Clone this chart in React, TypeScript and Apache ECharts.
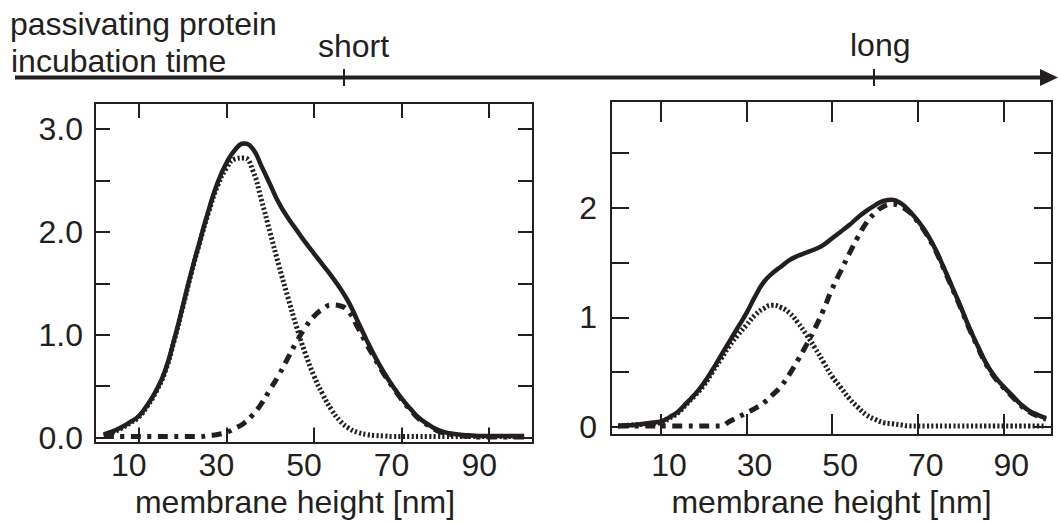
import React, { useEffect, useRef } from "react";
import * as echarts from "echarts";

// ---------- data ----------
const xLeft = [2, 4, 6, 8, 10, 12, 14, 16, 18, 20, 22, 24, 26, 28, 30, 32, 34, 36, 38, 40, 42, 44, 46, 48, 50, 52, 54, 56, 58, 60, 62, 64, 66, 68, 70, 72, 74, 76, 78, 80, 82, 84, 86, 88, 90, 92, 94, 96, 98];
const solidLeft = [0.03, 0.06, 0.1, 0.15, 0.21, 0.32, 0.46, 0.65, 0.94, 1.27, 1.61, 1.92, 2.22, 2.48, 2.67, 2.8, 2.86, 2.81, 2.64, 2.46, 2.28, 2.14, 2.02, 1.9, 1.79, 1.68, 1.57, 1.45, 1.31, 1.13, 0.95, 0.78, 0.63, 0.5, 0.38, 0.28, 0.19, 0.13, 0.08, 0.05, 0.035, 0.025, 0.02, 0.015, 0.015, 0.015, 0.015, 0.015, 0.015];
const dottedLeft = [0.02, 0.05, 0.09, 0.14, 0.2, 0.31, 0.45, 0.64, 0.93, 1.26, 1.6, 1.91, 2.2, 2.45, 2.62, 2.71, 2.72, 2.6, 2.31, 1.99, 1.67, 1.37, 1.08, 0.82, 0.6, 0.42, 0.27, 0.16, 0.09, 0.05, 0.03, 0.02, 0.015, 0.01, 0.01, 0.01, 0.01, 0.01, 0.01, 0.01, 0.01, 0.01, 0.01, 0.01, 0.01, 0.01, 0.01, 0.01, 0.01];
const dashDotLeft = [0.01, 0.01, 0.01, 0.01, 0.01, 0.01, 0.01, 0.01, 0.01, 0.01, 0.01, 0.01, 0.02, 0.03, 0.05, 0.09, 0.14, 0.22, 0.33, 0.47, 0.61, 0.77, 0.93, 1.07, 1.18, 1.25, 1.29, 1.28, 1.22, 1.07, 0.91, 0.76, 0.615, 0.49, 0.37, 0.27, 0.18, 0.12, 0.07, 0.04, 0.025, 0.015, 0.01, 0.005, 0.005, 0.005, 0.005, 0.005, 0.005];

const xRight = [0, 2, 4, 6, 8, 10, 12, 14, 16, 18, 20, 22, 24, 26, 28, 30, 32, 34, 36, 38, 40, 42, 44, 46, 48, 50, 52, 54, 56, 58, 60, 62, 64, 66, 68, 70, 72, 74, 76, 78, 80, 82, 84, 86, 88, 90, 92, 94, 96, 98, 100];
const solidRight = [0.01, 0.015, 0.02, 0.03, 0.04, 0.05, 0.09, 0.14, 0.22, 0.3, 0.4, 0.52, 0.65, 0.78, 0.91, 1.04, 1.19, 1.32, 1.4, 1.46, 1.52, 1.56, 1.59, 1.62, 1.66, 1.72, 1.78, 1.84, 1.91, 1.97, 2.02, 2.06, 2.07, 2.04, 1.97, 1.88, 1.77, 1.63, 1.46, 1.28, 1.1, 0.91, 0.74, 0.58, 0.46, 0.37, 0.29, 0.21, 0.15, 0.11, 0.08];
const dottedRight = [0.01, 0.015, 0.02, 0.025, 0.03, 0.04, 0.08, 0.13, 0.21, 0.29, 0.38, 0.5, 0.62, 0.74, 0.84, 0.93, 1.02, 1.08, 1.11, 1.09, 1.04, 0.95, 0.84, 0.72, 0.59, 0.46, 0.36, 0.26, 0.18, 0.11, 0.07, 0.04, 0.03, 0.02, 0.01, 0.01, 0.01, 0.01, 0.01, 0.01, 0.01, 0.01, 0.01, 0.01, 0.01, 0.01, 0.01, 0.01, 0.01, 0.01, 0.01];
const dashDotRight = [0.01, 0.01, 0.01, 0.01, 0.01, 0.01, 0.01, 0.01, 0.01, 0.01, 0.01, 0.01, 0.01, 0.05, 0.09, 0.13, 0.17, 0.22, 0.29, 0.37, 0.48, 0.61, 0.75, 0.9, 1.07, 1.26, 1.42, 1.58, 1.73, 1.86, 1.95, 2.01, 2.03, 2.01, 1.96, 1.87, 1.76, 1.62, 1.45, 1.27, 1.09, 0.9, 0.73, 0.57, 0.45, 0.36, 0.28, 0.2, 0.14, 0.1, 0.07];

const xTickValues = [10, 30, 50, 70, 90];
const yTicksLeft = [0, 0.5, 1, 1.5, 2, 2.5, 3];
const yLabelsLeft = [0, 1, 2, 3];
const yTicksRight = [0, 0.5, 1, 1.5, 2, 2.5];
const yLabelsRight = [0, 1, 2];
const xAxisName = "membrane height [nm]";
const timeTitle = ["passivating protein", "incubation time"];
const timeLabels = ["short", "long"];

// ---------- style ----------
const INK = "#231f20";
const FONT = "'Liberation Sans', Arial, Helvetica, sans-serif";
const FS = 32;

const pairs = (xs: number[], ys: number[]) => xs.map((x, i) => [x, ys[i]]);

function xAxes(grid: number, min: number, max: number, tickLen: number, labelMargin: number, labelPad: number[], nameGap: number, namePad: number[]) {
  const line = { show: true, onZero: false, lineStyle: { color: INK, width: 2 } };
  const tick = { show: true, inside: true, length: tickLen, customValues: xTickValues, lineStyle: { color: INK, width: 2 } };
  return [
    {
      type: "value", gridIndex: grid, position: "bottom", min, max,
      axisLine: line, axisTick: tick, splitLine: { show: false },
      axisLabel: { customValues: xTickValues, color: INK, fontSize: FS, fontFamily: FONT, margin: labelMargin, padding: labelPad },
      name: xAxisName, nameLocation: "middle", nameGap,
      nameTextStyle: { color: INK, fontSize: FS, fontFamily: FONT, padding: namePad, verticalAlign: "top" },
    },
    {
      type: "value", gridIndex: grid, position: "top", min, max,
      axisLine: line, axisTick: tick, splitLine: { show: false }, axisLabel: { show: false },
    },
  ];
}

function yAxes(grid: number, min: number, max: number, ticks: number[], labels: number[], tickLen: number, margin: number, fmt: (v: number) => string, pad: number[]) {
  const line = { show: true, onZero: false, lineStyle: { color: INK, width: 2 } };
  const tick = { show: true, inside: true, length: tickLen, customValues: ticks, lineStyle: { color: INK, width: 2 } };
  return [
    {
      type: "value", gridIndex: grid, position: "left", min, max,
      axisLine: line, axisTick: tick, splitLine: { show: false },
      axisLabel: { customValues: labels, color: INK, fontSize: FS, fontFamily: FONT, margin, formatter: fmt, padding: pad },
    },
    {
      type: "value", gridIndex: grid, position: "right", min, max,
      axisLine: line, axisTick: tick, splitLine: { show: false }, axisLabel: { show: false },
    },
  ];
}

function curves(xi: number, yi: number, xs: number[], solid: number[], dotted: number[], dashdot: number[]) {
  const base = { type: "line", xAxisIndex: xi, yAxisIndex: yi, showSymbol: false, smooth: 0.5, silent: true };
  return [
    { ...base, name: "dotted", data: pairs(xs, dotted), lineStyle: { color: INK, width: 5, type: [2.2, 2.2], cap: "butt" } },
    { ...base, name: "dashdot", data: pairs(xs, dashdot), lineStyle: { color: INK, width: 5, type: [10, 6.5, 4, 6.5], cap: "butt" } },
    { ...base, name: "total", data: pairs(xs, solid), lineStyle: { color: INK, width: 4.5, type: "solid" } },
  ];
}

export default function App() {
  const ref = useRef<HTMLDivElement>(null);
  useEffect(() => {
    if (!ref.current) return;
    const chart = echarts.init(ref.current, null, { renderer: "svg" });
    const textStyle = { fill: INK, fontSize: FS, fontFamily: FONT, verticalAlign: "middle", align: "left" };
    chart.setOption({
      animation: false,
      backgroundColor: "#ffffff",
      grid: [
        { left: 95, top: 103, width: 438, height: 351.5, show: false },
        { left: 611, top: 101, width: 441, height: 346, show: false },
      ],
      xAxis: [
        ...xAxes(0, 0, 100, 15, 6.5, [0, 20, 0, 0], 35, [0, 38, 0, 0]),
        ...xAxes(1, -1.69, 101.38, 21, 14, [0, 0, 0, 16], 44, [0, 0, 0, 0]),
      ],
      yAxis: [
        ...yAxes(0, -0.049, 3.254, yTicksLeft, yLabelsLeft, 15, 12, (v: number) => v.toFixed(1), [0, 0, 4, 0]),
        ...yAxes(1, -0.074, 2.971, yTicksRight, yLabelsRight, 18, 14, (v: number) => String(v), [0, 0, 0, 0]),
      ],
      series: [
        ...curves(0, 0, xLeft, solidLeft, dottedLeft, dashDotLeft),
        ...curves(2, 2, xRight, solidRight, dottedRight, dashDotRight),
      ],
      graphic: [
        { type: "text", x: 10, y: 24, style: { ...textStyle, text: timeTitle[0] } },
        { type: "text", x: 11, y: 61, style: { ...textStyle, text: timeTitle[1] } },
        { type: "text", x: 318, y: 45.5, style: { ...textStyle, text: timeLabels[0] } },
        { type: "text", x: 850, y: 45, style: { ...textStyle, text: timeLabels[1] } },
        { type: "line", shape: { x1: 15, y1: 77.5, x2: 1044, y2: 77.5 }, style: { stroke: INK, lineWidth: 4 } },
        { type: "polygon", shape: { points: [[1040, 69], [1058, 77.5], [1040, 86]] }, style: { fill: INK } },
        { type: "line", shape: { x1: 344, y1: 69, x2: 344, y2: 86 }, style: { stroke: INK, lineWidth: 2 } },
        { type: "line", shape: { x1: 874, y1: 69, x2: 874, y2: 86 }, style: { stroke: INK, lineWidth: 2 } },
      ],
    });
    return () => chart.dispose();
  }, []);
  return <div ref={ref} style={{ position: "fixed", left: 0, top: 0, width: 1058, height: 523 }} />;
}
